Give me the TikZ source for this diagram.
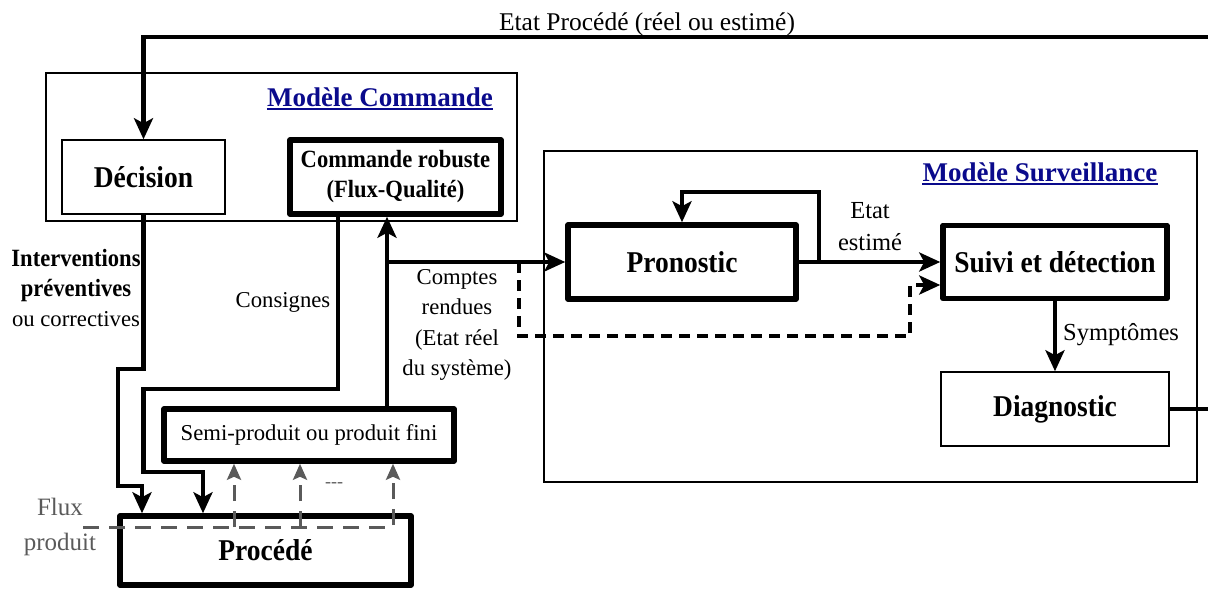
\documentclass[tikz,border=0pt]{standalone}
\usepackage{fontspec}
\setmainfont{Liberation Serif}
\newfontfamily\narrowfam[FakeStretch=0.91]{Liberation Serif}
\usetikzlibrary{arrows.meta}
\definecolor{titleblue}{RGB}{10,10,140}
\definecolor{flowgray}{RGB}{90,90,90}
\newcommand\fsnorm{\fontsize{22.7}{30.5}\selectfont}
\newcommand\fsmid{\fontsize{24.5}{32}\selectfont}
\newcommand\fstop{\fontsize{25.5}{30}\selectfont}
\newcommand\fsbox{\narrowfam\fontsize{30.2}{32}\selectfont\bfseries}
\newcommand\fscr{\narrowfam\fontsize{24.8}{30}\selectfont\bfseries}
\newcommand\fsint{\narrowfam\fontsize{24.8}{30.5}\selectfont\bfseries}
\newcommand\fstitle{\fontsize{27}{30}\selectfont\bfseries}
\begin{document}
\begin{tikzpicture}[x=1pt,y=-1pt,
 thinbox/.style={draw, line width=1.5pt, fill=white, inner sep=0pt, align=center, font=\fsbox},
 thickbox/.style={draw, line width=5.5pt, line join=round, fill=white, inner sep=0pt, align=center, font=\fsbox},
 frame/.style={draw, line width=1.3pt, inner sep=0pt},
 conn/.style={line width=4.5pt},
 arr/.style={conn, -{Stealth[length=21pt,width=19pt,inset=5pt]}},
 dsh/.style={conn, dash pattern=on 11pt off 7pt, -{Stealth[length=21pt,width=19pt,inset=5pt]}},
 gd/.style={flowgray, line width=3pt, dash pattern=on 16pt off 10pt},
 garr/.style={gd, -{Stealth[length=16pt,width=14pt,inset=3pt]}},
 lbl/.style={inner sep=0pt, align=center, font=\fsnorm},
]
\useasboundingbox (0,0) rectangle (1208,590);

% frames
\node[frame, minimum width=471pt, minimum height=148pt] (mcbox) at (281.5,147) {};
\node[frame, minimum width=653pt, minimum height=331pt] (msbox) at (870.5,316.5) {};

% titles
\node[inner sep=0pt, font=\fstop, anchor=base] (tl) at (647,30) {Etat Procédé (réel ou estimé)};
\node[inner sep=0pt, font=\fstitle, text=titleblue, anchor=base] (mct) at (380,106) {Modèle Commande};
\draw[titleblue, line width=2pt] ([yshift=-3pt]mct.base west) -- ([yshift=-3pt]mct.base east);
\node[inner sep=0pt, font=\fstitle, text=titleblue, anchor=base] (mst) at (1040,181) {Modèle Surveillance};
\draw[titleblue, line width=2pt] ([yshift=-3pt]mst.base west) -- ([yshift=-3pt]mst.base east);

% boxes
\node[thinbox, minimum width=163pt, minimum height=74pt] (dec) at (143.5,177) {Décision};
\node[thickbox, minimum width=211pt, minimum height=74pt, font=\fscr] (cr) at (395.5,177) {Commande robuste\\(Flux-Qualité)};
\node[thickbox, minimum width=228pt, minimum height=74pt] (pro) at (682,262) {Pronostic};
\node[thickbox, minimum width=224pt, minimum height=73pt] (sui) at (1055,262) {Suivi et détection};
\node[thinbox, minimum width=228pt, minimum height=74pt] (dia) at (1055,409) {Diagnostic};
\node[thickbox, minimum width=290pt, minimum height=52pt, font=\fsnorm] (sp) at (309,435) {Semi-produit ou produit fini};
\node[thickbox, minimum width=291pt, minimum height=69pt] (proc) at (265.5,550.5) {Procédé};

% connectors
\coordinate (rt) at (1208,37);
\draw[arr] (rt) -| (dec.north);
\draw[arr] (dec.south) |- (118,369) |- (142,486) -- (142,486 |- proc.north);
\draw[arr] (338,0 |- cr.south) |- (143.5,389) |- (203,472) -- (203,472 |- proc.north);
\coordinate (j1) at (387,262);
\draw[arr] (387,0 |- sp.north) -- (387,0 |- cr.south);
\draw[arr] (j1) -- (pro.west);
\draw[arr] (pro.east) -- (sui.west);
\draw[arr] (819,262) |- (682,192) -- (pro.north);
\draw[dsh] (519,262) |- (910,336) -- (910,285) -- (910,285 -| sui.west);
\draw[arr] (sui.south) -- (dia.north);
\coordinate (rd) at (1208,409);
\draw[conn] (dia.east) -- (rd);

% product flow
\draw[garr] (83,527) -| (393,0 |- sp.south);
\draw[garr] (234,527) -- (234,0 |- sp.south);
\draw[garr] (300,527) -- (300,0 |- sp.south);

% labels
\node[lbl] (lint) at (76,288) {{\fsint Interventions}\\{\fsint préventives}\\ou correctives};
\node[lbl] (lcons) at (283,302) {Consignes};
\node[lbl] (lcr) at (457,325) {Comptes\\rendues\\(Etat réel\\du système)};
\node[lbl, font=\fsmid] (lest) at (870,227) {Etat\\estimé};
\node[lbl, anchor=west, font=\fsmid] (lsym) at (1063,335) {Symptômes};
\node[lbl, text=flowgray, font=\fontsize{25}{35}\selectfont] (lflux) at (60,527) {Flux\\produit};
\node[lbl, text=flowgray, font=\fontsize{18}{20}\selectfont] (ldots) at (334,485) {-{}-{}-};
\end{tikzpicture}
\end{document}
